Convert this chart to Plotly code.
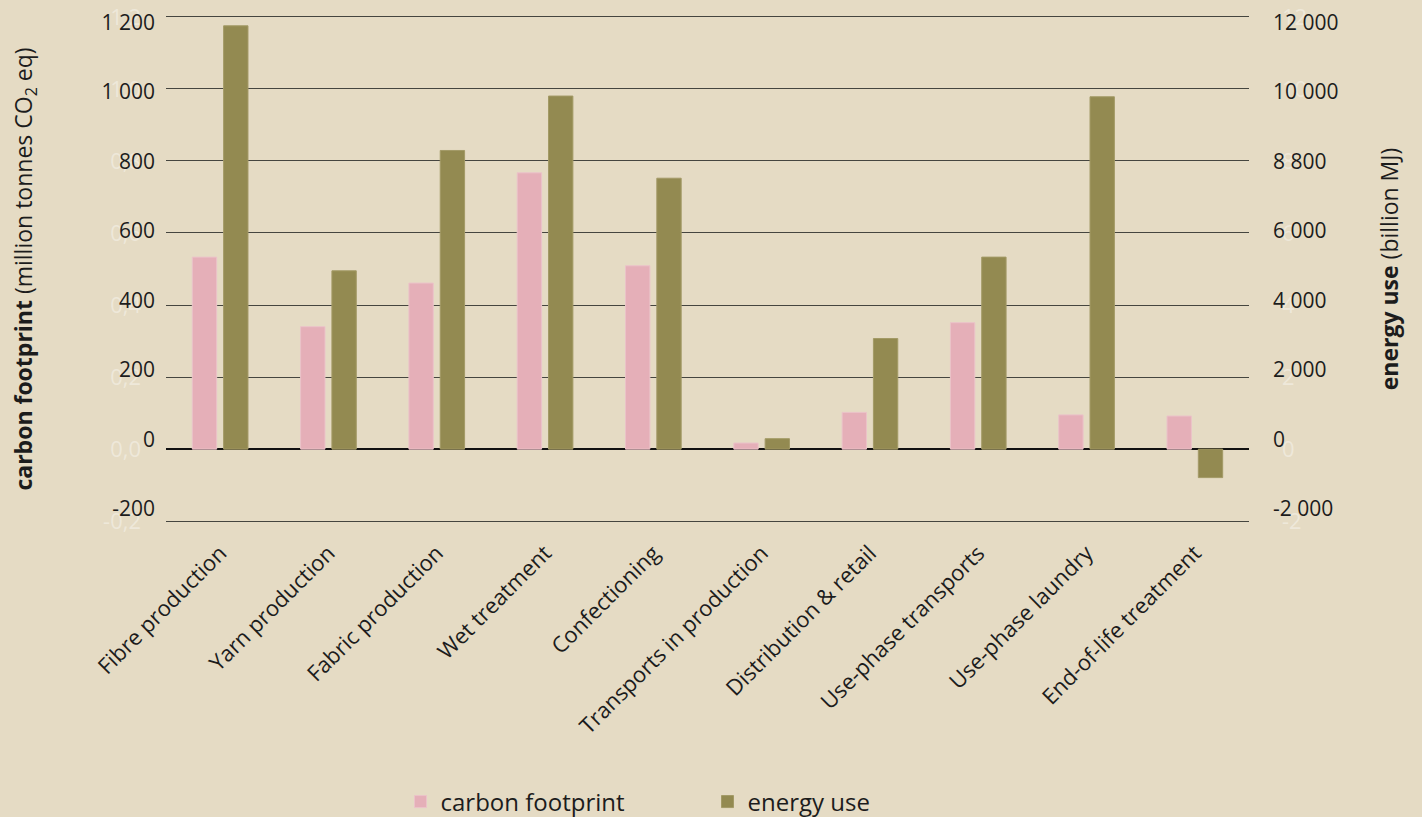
import plotly.graph_objects as go

categories = ["Fibre production", "Yarn production", "Fabric production", "Wet treatment",
              "Confectioning", "Transports in production", "Distribution & retail",
              "Use-phase transports", "Use-phase laundry", "End-of-life treatment"]
carbon_footprint = [533, 340, 461, 767, 509, 17, 102, 351, 95, 92]
energy_use = [11750, 4950, 8290, 9800, 7520, 290, 3070, 5330, 9780, -790]

left_tickvals = [-200, 0, 200, 400, 600, 800, 1000, 1200]
left_ticktext = ["-200", "0", "200", "400", "600", "800", "1 000", "1 200"]
left_ghosttext = ["-0,2", "0,0", "0,2", "0,4", "0,6", "0,8", "1,0", "1,2"]
right_tickvals = [-2000, 0, 2000, 4000, 6000, 8000, 10000, 12000]
right_ticktext = ["-2 000", "0", "2 000", "4 000", "6 000", "8 800", "10 000", "12 000"]
right_ghosttext = ["-2", "0", "2", "4", "6", "8", "10", "12"]

BG = "#E5DBC4"
PINK = "#E5AFB8"
OLIVE = "#938A51"
INK = "#1c1c1c"
GHOST = "rgba(255,255,255,0.38)"
FONT = "Open Sans"

fig = go.Figure()
fig.add_trace(go.Bar(x=categories, y=carbon_footprint, name="carbon footprint",
                     marker=dict(color=PINK, line=dict(color="#EBC3C9", width=1)),
                     width=0.225, offset=-0.257, yaxis="y"))
fig.add_trace(go.Bar(x=categories, y=energy_use, name="energy use",
                     marker=dict(color=OLIVE, line=dict(color="#A39A66", width=1)),
                     width=0.225, offset=0.032, yaxis="y2"))
fig.add_trace(go.Scatter(x=[], y=[], yaxis="y3", showlegend=False, hoverinfo="skip"))
fig.add_trace(go.Scatter(x=[], y=[], yaxis="y4", showlegend=False, hoverinfo="skip"))

fig.update_layout(
    width=1422, height=817,
    paper_bgcolor=BG, plot_bgcolor=BG,
    margin=dict(l=166, r=173, t=15, b=294),
    font=dict(family=FONT, color=INK),
    showlegend=True,
    legend=dict(orientation="h", x=0.5, xanchor="center", xref="paper",
                y=0.0184, yanchor="middle", yref="container",
                font=dict(size=24, color=INK), entrywidth=262, entrywidthmode="pixels",
                bgcolor="rgba(0,0,0,0)"),
    xaxis=dict(type="category", tickangle=-45, tickfont=dict(size=22, color=INK),
               showgrid=False, showline=False, ticks="", ticklabelstandoff=12,
               automargin=False),
    yaxis=dict(range=[-205, 1205], tickvals=left_tickvals, ticktext=left_ghosttext,
               tickfont=dict(size=22, color=GHOST), showgrid=True, gridcolor="#45453f",
               gridwidth=1, zeroline=True, zerolinecolor="#111111", zerolinewidth=1.5,
               showline=False, ticks="", ticklabelstandoff=24, automargin=False),
    yaxis2=dict(range=[-2050, 12050], tickvals=right_tickvals, ticktext=right_ghosttext,
                tickfont=dict(size=22, color=GHOST), overlaying="y", side="right",
                showgrid=False, zeroline=False, showline=False, ticks="",
                ticklabelstandoff=32, automargin=False),
    yaxis3=dict(range=[-240.1, 1221.4], tickvals=left_tickvals, ticktext=left_ticktext,
                tickfont=dict(size=21, color=INK), overlaying="y", side="left",
                showgrid=False, zeroline=False, showline=False, ticks="",
                ticklabelstandoff=10, automargin=False,
                title=dict(text="<b>carbon footprint</b> (million tonnes CO<sub>2</sub> eq)",
                           font=dict(size=23, color=INK), standoff=62)),
    yaxis4=dict(range=[-2401, 12214], tickvals=right_tickvals, ticktext=right_ticktext,
                tickfont=dict(size=21, color=INK), overlaying="y", side="right",
                showgrid=False, zeroline=False, showline=False, ticks="",
                ticklabelstandoff=23, automargin=False,
                title=dict(text="<b>energy use</b> (billion MJ)",
                           font=dict(size=23, color=INK), standoff=44)),
)

fig.write_html("out.html", config={"displayModeBar": False},
               post_script="document.body.style.margin='0';")
